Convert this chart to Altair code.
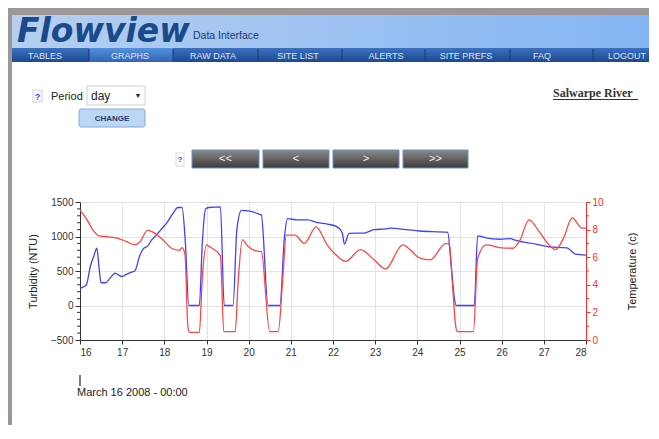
import altair as alt
import pandas as pd

# ---------------- data ----------------
turb_day = [16.00, 16.08, 16.15, 16.25, 16.33, 16.40, 16.45, 16.50, 16.60, 16.72, 16.83, 16.92,
            17.00, 17.10, 17.21, 17.30, 17.42, 17.50, 17.60, 17.70, 17.81, 17.95, 18.05, 18.20,
            18.32, 18.42, 18.50, 18.58, 18.83, 18.90, 18.98, 19.05, 19.33, 19.42, 19.63, 19.72,
            19.83, 20.00, 20.22, 20.30, 20.46, 20.74, 20.85, 20.92, 21.15, 21.40, 21.63, 21.87,
            22.10, 22.22, 22.27, 22.38, 22.73, 22.98, 23.25, 23.35, 23.73, 24.05, 24.72, 24.80,
            24.88, 24.92, 25.35, 25.43, 25.63, 25.95, 26.22, 26.30, 26.81, 27.12, 27.55, 27.75,
            28.00]
turb_val = [250, 270, 300, 580, 720, 830, 560, 330, 330, 400, 470, 440,
            420, 450, 480, 500, 730, 820, 860, 950, 1020, 1120, 1190, 1330,
            1420, 1420, 900, 0, 0, 900, 1400, 1420, 1430, 0, 0, 1100,
            1380, 1370, 1330, 1310, 0, 0, 1000, 1260, 1240, 1240, 1200, 1180,
            1140, 1050, 890, 1045, 1050, 1100, 1110, 1120, 1100, 1080, 1060, 600,
            100, 0, 0, 1010, 980, 960, 970, 950, 890, 850, 835, 745,
            730]

temp_day = [16.00, 16.15, 16.30, 16.45, 16.60, 16.86, 17.09, 17.29, 17.42, 17.60, 17.71, 17.97,
            18.17, 18.36, 18.42, 18.49, 18.56, 18.60, 18.83, 18.90, 19.00, 19.05, 19.33, 19.41,
            19.68, 19.75, 19.85, 19.98, 20.18, 20.30, 20.50, 20.70, 20.81, 20.89, 21.10, 21.32,
            21.60, 21.86, 22.06, 22.30, 22.65, 22.98, 23.25, 23.65, 24.05, 24.30, 24.68, 24.76,
            24.83, 24.91, 24.95, 25.33, 25.43, 25.63, 25.95, 26.27, 26.42, 26.65, 26.89, 27.12,
            27.28, 27.47, 27.67, 27.91, 28.00]
temp_val = [9.4, 8.8, 8.0, 7.55, 7.5, 7.4, 7.15, 6.9, 7.1, 7.95, 7.85, 7.25,
            6.65, 6.5, 6.7, 6.2, 0.9, 0.55, 0.55, 4.5, 6.9, 6.8, 6.1, 0.6,
            0.6, 4.2, 7.25, 6.8, 6.45, 6.4, 0.6, 0.6, 4.5, 7.6, 7.6, 7.0,
            8.2, 6.9, 6.2, 5.7, 6.55, 5.8, 5.15, 6.9, 5.95, 5.8, 7.0, 6.9,
            4.2, 1.0, 0.6, 0.6, 5.9, 6.9, 6.7, 6.65, 7.15, 8.7, 7.85, 6.9,
            6.55, 7.4, 8.85, 8.1, 8.1]

x_ticks = list(range(16, 29))
turb_ticks = [-500, 0, 500, 1000, 1500]
turb_minor = [v for v in range(-500, 1501, 100) if v % 500 != 0]
temp_ticks = [0, 2, 4, 6, 8, 10]
temp_minor = [1, 3, 5, 7, 9]

nav_labels = ["TABLES", "GRAPHS", "RAW DATA", "SITE LIST", "ALERTS", "SITE PREFS", "FAQ", "LOGOUT"]
pager_labels = ["<<", "<", ">", ">>"]
brand = "Flowview"
brand_sub = "Data Interface"
site_name = "Salwarpe River"
period_label = "Period"
period_value = "day"
change_label = "CHANGE"
start_label = "March 16 2008 - 00:00"
turb_title = "Turbidity (NTU)"
temp_title = "Temperature (c)"

# ---------------- layout / style ----------------
W, H = 506, 138
OX, OY = 80, 202          # window position of the plot origin
FONT = "Liberation Sans"
GRAY = "#9d9799"
AX = "#333333"
GRID = "#e2e2e2"
BLUE = "#4040ff"
RED = "#ff4545"
RED_AX = "#ff2d2d"
ONE = alt.Data(values=[{"k": 1}])


def hgrad(c0, c1):
    return alt.LinearGradient(gradient="linear", x1=0, x2=1, y1=0, y2=0,
                              stops=[alt.GradientStop(color=c0, offset=0),
                                     alt.GradientStop(color=c1, offset=1)])


def vgrad(c0, c1):
    return alt.LinearGradient(gradient="linear", x1=0, x2=0, y1=0, y2=1,
                              stops=[alt.GradientStop(color=c0, offset=0),
                                     alt.GradientStop(color=c1, offset=1)])


def box(x1, y1, x2, y2, fill, stroke=None, sw=1.0, r=0):
    kw = {"fill": fill}
    if stroke:
        kw["stroke"] = stroke
        kw["strokeWidth"] = sw
    else:
        kw["strokeWidth"] = 0
    if r:
        kw["cornerRadius"] = r
    return alt.Chart(ONE).mark_rect(**kw).encode(
        x=alt.value(x1 - OX), x2=alt.value(x2 - OX),
        y=alt.value(y1 - OY), y2=alt.value(y2 - OY))


def seg(x1, y1, x2, y2, color, w=1.0):
    return alt.Chart(ONE).mark_rule(color=color, strokeWidth=w).encode(
        x=alt.value(x1 - OX), x2=alt.value(x2 - OX),
        y=alt.value(y1 - OY), y2=alt.value(y2 - OY))


def txt(x, y, s, size=11, color="#222222", weight="normal", font=FONT,
        align="left", baseline="middle", style="normal"):
    return alt.Chart(ONE).mark_text(
        text=s, fontSize=size, color=color, fontWeight=weight, font=font,
        align=align, baseline=baseline, fontStyle=style).encode(
        x=alt.value(x - OX), y=alt.value(y - OY))


deco = []
# frame
deco.append(box(8, 8, 660, 15, GRAY))
deco.append(box(8, 8, 12, 440, GRAY))
# header banner
deco.append(box(12, 15, 650, 48, hgrad("#b6cfef", "#84b5f3")))
deco.append(txt(17, 42, brand, size=33, color="#1b4a8c", weight="bold",
                font="DejaVu Sans", baseline="alphabetic", style="italic"))
deco.append(txt(193, 39, brand_sub, size=10.5, color="#1c3a70", baseline="alphabetic"))
# nav bar
deco.append(box(12, 48, 650, 62, vgrad("#3c70be", "#1c4a92")))
deco.append(box(89, 48, 173, 62, vgrad("#5590dc", "#2f66b6")))
for sx in [89, 173, 258, 342, 425, 510, 593]:
    deco.append(seg(sx, 49, sx, 61, "#173c75"))
for lab, cx in zip(nav_labels, [45, 130, 213, 298, 386, 466, 542, 627]):
    deco.append(txt(cx, 55.5, lab, size=9, color="#dbe6f5", align="center"))
# period form
deco.append(box(33, 90, 42, 102, "#ffffff", "#cfcfcf"))
deco.append(txt(37.5, 96.5, "?", size=9, color="#3b3bff", weight="bold", align="center"))
deco.append(txt(51, 97, period_label, size=11, color="#222222"))
deco.append(box(87, 86, 145, 105, "#ffffff", "#d0d0d0"))
deco.append(txt(91, 96, period_value, size=12, color="#222222"))
deco.append(txt(138, 96, "\u25bc", size=7, color="#222222", align="center"))
deco.append(box(79, 109, 145, 127, "#bcd6f6", "#86a9d6", 1, 2))
deco.append(txt(112, 118.5, change_label, size=8, color="#1c3a70", weight="bold", align="center"))
deco.append(txt(553, 93, site_name, size=12, color="#333333", weight="bold",
                font="Liberation Serif"))
deco.append(seg(553, 99.5, 638, 99.5, "#333333", 1))
# pager
deco.append(box(176, 153, 184, 166, "#ffffff", "#d8d8d8"))
deco.append(txt(180, 159.5, "?", size=8, color="#3b3bff", weight="bold", align="center"))
for lab, (bx1, bx2) in zip(pager_labels, [(192, 259), (263, 329), (333, 399), (403, 468)]):
    deco.append(box(bx1, 150, bx2, 168, vgrad("#8a8a8a", "#3c3c3c"), "#6f8fc4", 1))
    deco.append(txt((bx1 + bx2) / 2, 159, lab, size=11, color="#f0f0f0", align="center"))
# start marker
deco.append(seg(80, 375, 80, 386, "#222222", 1.2))
deco.append(txt(77, 393, start_label, size=11, color="#222222"))

# ---------------- chart ----------------
turb_df = pd.DataFrame({"day": turb_day, "turb": turb_val})
temp_df = pd.DataFrame({"day": temp_day, "temp": temp_val})

xscale = alt.Scale(domain=[16, 28], nice=False, zero=False)
xaxis = alt.Axis(values=x_ticks, format="d", title=None, grid=True, gridColor=GRID,
                 domainColor=AX, tickColor=AX, tickSize=4, labelFontSize=10,
                 labelColor="#333333", labelPadding=3, labelFont=FONT)
tscale = alt.Scale(domain=[-500, 1500], nice=False, zero=False)
cscale = alt.Scale(domain=[0, 10], nice=False, zero=False)

blue = alt.Chart(turb_df).mark_line(color=BLUE, strokeWidth=1.3, interpolate="monotone").encode(
    x=alt.X("day:Q", scale=xscale, axis=xaxis),
    y=alt.Y("turb:Q", scale=tscale,
            axis=alt.Axis(orient="left", values=turb_ticks, format="d", title=turb_title,
                          grid=True, gridColor=GRID, domainColor=AX, tickColor=AX, tickSize=5,
                          labelFontSize=10, labelColor="#333333", labelPadding=2,
                          labelFont=FONT, titleFont=FONT, titleFontSize=11,
                          titleFontWeight="normal", titleColor="#222222", titlePadding=12)))

minor_l = alt.Chart(pd.DataFrame({"m": turb_minor})).mark_rule(color=AX, strokeWidth=1).encode(
    y=alt.Y("m:Q", scale=tscale, axis=None), x=alt.value(-3), x2=alt.value(0))

red = alt.Chart(temp_df).mark_line(color=RED, strokeWidth=1.3, interpolate="monotone").encode(
    x=alt.X("day:Q", scale=xscale, axis=xaxis),
    y=alt.Y("temp:Q", scale=cscale,
            axis=alt.Axis(orient="right", values=temp_ticks, format="d", title=temp_title,
                          grid=False, domainColor=RED_AX, tickColor=RED_AX, tickSize=4,
                          labelFontSize=10, labelColor=RED_AX, labelPadding=2,
                          labelFont=FONT, titleFont=FONT, titleFontSize=11,
                          titleFontWeight="normal", titleColor="#222222",
                          titleAngle=270, titleBaseline="top", titlePadding=23)))

minor_r = alt.Chart(pd.DataFrame({"m": temp_minor})).mark_rule(color=RED_AX, strokeWidth=1).encode(
    y=alt.Y("m:Q", scale=cscale, axis=None), x=alt.value(W), x2=alt.value(W + 3))

chart = alt.layer(*deco, blue, minor_l, red, minor_r).resolve_scale(
    y="independent"
).properties(
    width=W, height=H,
    padding={"left": 72, "top": 194, "right": 63, "bottom": 85},
    autosize=alt.AutoSizeParams(type="none"),
    background="#ffffff",
).configure_view(strokeWidth=0)

chart.save("out.html", embed_options={"renderer": "svg", "actions": False})
